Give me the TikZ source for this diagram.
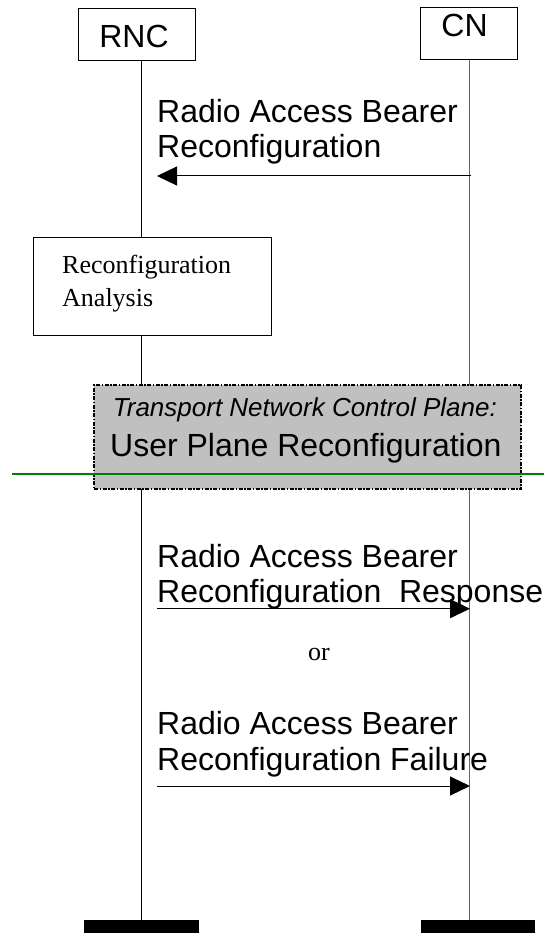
\documentclass[tikz,border=0pt]{standalone}
\usepackage{fontspec}
\setmainfont{Liberation Serif}
\setsansfont{Liberation Sans}
\usetikzlibrary{arrows.meta}
\definecolor{boxgray}{RGB}{192,192,192}
\definecolor{lgreen}{RGB}{0,128,0}
\definecolor{lifegray}{RGB}{100,100,100}
\tikzset{
  entity/.style={draw, line width=1pt, inner sep=0pt},
  bigsans/.style={font=\sffamily\fontsize{32}{36}\selectfont, inner sep=0pt},
  itsans/.style={font=\sffamily\itshape\fontsize{26}{30}\selectfont, inner sep=0pt},
  serifw/.style={font=\rmfamily\fontsize{26}{30}\selectfont, inner sep=0pt},
  lifeline/.style={line width=1pt},
  endbar/.style={fill=black, draw=black, inner sep=0pt},
  msg/.style={line width=1pt, -{Triangle[length=20pt,width=19pt]}},
}
\begin{document}
\begin{tikzpicture}[x=1pt,y=-1pt]
\useasboundingbox (0,0) rectangle (544,933);

% entities
\node[entity, minimum width=117pt, minimum height=52pt] (rnc) at (137,35) {};
\node[entity, minimum width=97pt, minimum height=52pt] (cn) at (468.5,34) {};
\node[bigsans, anchor=base] (rnclbl) at (134,48) {RNC};
\node[bigsans, anchor=base] (cnlbl) at (464.5,37) {CN};

% end bars
\node[endbar, minimum width=114pt, minimum height=13pt] (rncend) at (141.5,926.5) {};
\node[endbar, minimum width=113pt, minimum height=13pt] (cnend) at (477.5,926.5) {};

% lifelines
\draw[lifeline] (141.7,61) -- (rncend.north -| 141.7,0);
\draw[lifeline, lifegray] (469.5,60) -- (cnend.north -| 469.5,0);

% message 1
\node[bigsans, anchor=base west] (m1a) at (157,123) {Radio Access Bearer};
\node[bigsans, anchor=base west] (m1b) at (157,158) {Reconfiguration};
\coordinate (m1s) at (470.5,176);
\coordinate (m1e) at (157,176);
\draw[msg] (m1s) -- (m1e);

% reconfiguration analysis
\node[entity, fill=white, minimum width=238.5pt, minimum height=98.5pt] (ana) at (152.25,286.25) {};
\node[serifw, anchor=base west] (anaa) at (62,273) {Reconfiguration};
\node[serifw, anchor=base west] (anab) at (62,306) {Analysis};

% transport network control plane box
\node[draw, fill=boxgray, line width=1.6pt,
      dash pattern=on 4pt off 1.5pt on 1.5pt off 1.5pt,
      minimum width=427pt, minimum height=104pt, inner sep=0pt] (tnl) at (307.5,437) {};
\node[itsans, anchor=base west] (tnla) at (112.7,416.7) {Transport Network Control Plane:};
\node[bigsans, anchor=base west] (tnlb) at (110,456.7) {User Plane Reconfiguration};

% green line
\coordinate (gl) at (12,473.5);
\coordinate (gr) at (544,473.5);
\draw[lgreen, line width=2pt] (gl) -- (gr);

% message 2
\node[bigsans, anchor=base west] (m2a) at (157,567.7) {Radio Access Bearer};
\node[bigsans, anchor=base west] (m2b) at (157,602.7) {Reconfiguration\ \ Response};
\coordinate (m2s) at (156.7,608.7);
\coordinate (m2e) at (470,608.7);
\draw[msg] (m2s) -- (m2e);

\node[serifw, anchor=base] (or) at (319,660) {or};

% message 3
\node[bigsans, anchor=base west] (m3a) at (157,734) {Radio Access Bearer};
\node[bigsans, anchor=base west] (m3b) at (157,770.7) {Reconfiguration Failure};
\coordinate (m3s) at (156.7,786);
\coordinate (m3e) at (470,786);
\draw[msg] (m3s) -- (m3e);
\end{tikzpicture}
\end{document}
